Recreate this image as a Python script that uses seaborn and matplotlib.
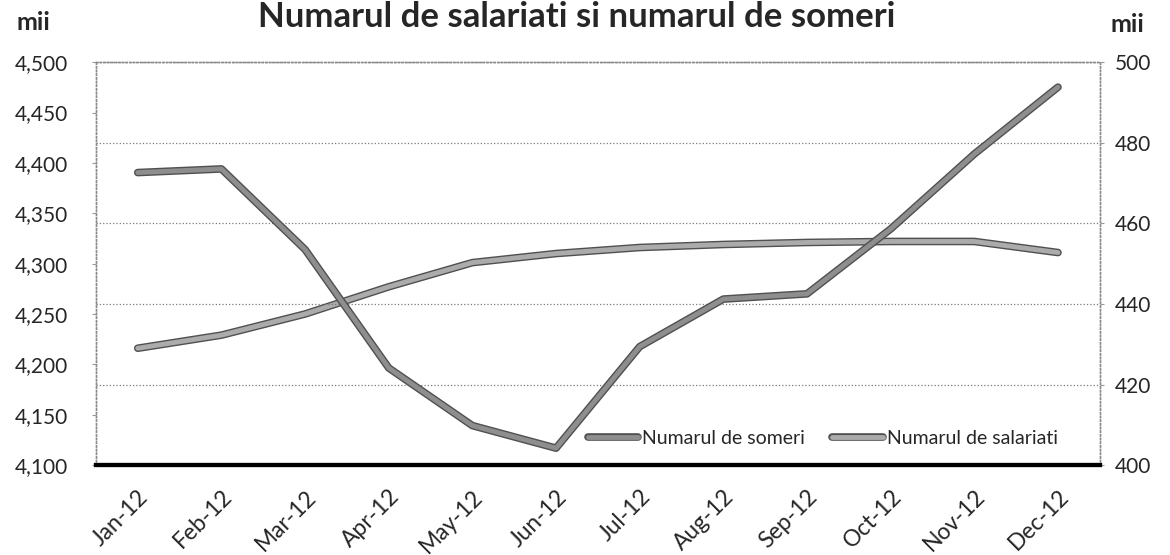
import numpy as np
import pandas as pd
import matplotlib
matplotlib.use("Agg")
import matplotlib.pyplot as plt
import matplotlib.patheffects as pe
from matplotlib.ticker import FuncFormatter
import seaborn as sns

# -------------------- DATA --------------------
months = ["Jan-12", "Feb-12", "Mar-12", "Apr-12", "May-12", "Jun-12",
          "Jul-12", "Aug-12", "Sep-12", "Oct-12", "Nov-12", "Dec-12"]
# numarul de salariati (mii) - left axis
salariati = [4216, 4229, 4250, 4277, 4301, 4310, 4316, 4319, 4321, 4322, 4322, 4311]
# numarul de someri (mii) - right axis
someri = [472.6, 473.5, 453.5, 424.1, 409.8, 404.2, 429.4, 441.2, 442.5, 458.6, 477.2, 493.8]

df = pd.DataFrame({"luna": months, "pos": np.arange(len(months)),
                   "salariati": salariati, "someri": someri})

# -------------------- STYLE --------------------
sns.set_style("white")
plt.rcParams["font.family"] = ["Lato", "DejaVu Sans"]

fig = plt.figure(figsize=(11.7, 5.55), dpi=100)
ax = fig.add_axes([0.082, 0.162, 0.858, 0.726])
ax2 = ax.twinx()

outline = [pe.Stroke(linewidth=5.5, foreground="#505050"), pe.Normal()]

sns.lineplot(data=df, x="pos", y="salariati", ax=ax, color="#ababab",
             linewidth=3.5, label="Numarul de salariati", legend=False,
             path_effects=outline)
sns.lineplot(data=df, x="pos", y="someri", ax=ax2, color="#8e8e8e",
             linewidth=3.5, label="Numarul de someri", legend=False,
             path_effects=outline)

# -------------------- AXES --------------------
ax.set_xlim(-0.5, len(months) - 0.5)
ax.set_ylim(4100, 4500)
ax2.set_ylim(400, 500)
ax.set_yticks(np.arange(4100, 4501, 50))
ax2.set_yticks(np.arange(400, 501, 20))
ax.yaxis.set_major_formatter(FuncFormatter(lambda v, p: f"{int(v):,}"))

ax.set_xticks(df["pos"])
ax.set_xticklabels(months, rotation=45, ha="right", rotation_mode="anchor")
ax.set_xticks(np.arange(-0.5, len(months), 1), minor=True)
ax.tick_params(axis="x", which="major", length=0, pad=15, labelsize=16.5)
ax.tick_params(axis="x", which="minor", length=6, width=2, color="black",
               direction="out")
ax.tick_params(axis="y", labelsize=15, length=3, color="#999999", pad=17)
ax2.tick_params(axis="y", labelsize=15, length=3, color="#999999", pad=8)
ax.set_xlabel("")
ax.set_ylabel("")
ax2.set_ylabel("")

ax2.grid(axis="y", linestyle=":", color="#7a7a7a", linewidth=0.9)
ax.grid(False)

for a in (ax, ax2):
    for side in ("left", "right", "top"):
        a.spines[side].set_linestyle(":")
        a.spines[side].set_color("#8a8a8a")
        a.spines[side].set_linewidth(1.0)
    a.spines["bottom"].set_color("black")
    a.spines["bottom"].set_linewidth(3)

# -------------------- LEGEND --------------------
h1, l1 = ax.get_legend_handles_labels()
h2, l2 = ax2.get_legend_handles_labels()
leg = ax2.legend(h2 + h1, l2 + l1, loc="center", bbox_to_anchor=(0.724, 0.067),
                 ncol=2, frameon=False, fontsize=14, handlelength=2.6,
                 handletextpad=0.2, columnspacing=1.4)

# -------------------- TEXT --------------------
fig.text(0.493, 1 - 27 / 555, "Numarul de salariati si numarul de someri",
         ha="center", va="baseline", fontsize=25, fontweight="bold")
fig.text(16 / 1170, 1 - 30 / 555, "mii", ha="left", va="baseline",
         fontsize=18, fontweight="bold")
fig.text(1110 / 1170, 1 - 32 / 555, "mii", ha="left", va="baseline",
         fontsize=18, fontweight="bold")

fig.savefig("out.png", dpi=100)
plt.close(fig)
